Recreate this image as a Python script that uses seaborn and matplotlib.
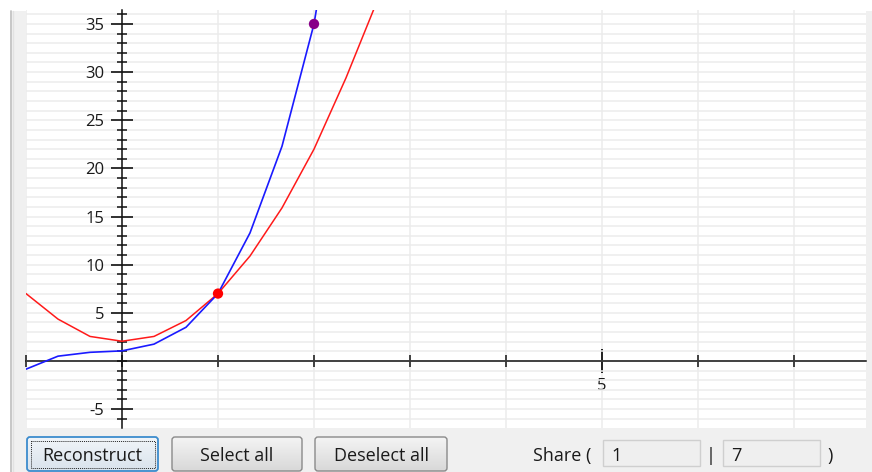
import numpy as np
import pandas as pd
import matplotlib
matplotlib.use("Agg")
import matplotlib.pyplot as plt
from matplotlib.patches import Rectangle, FancyBboxPatch
from matplotlib.ticker import FixedLocator, MultipleLocator, NullFormatter
import seaborn as sns

# Curve samples (step of one third)
x_blue = [-1, -2/3, -1/3, 0, 1/3, 2/3, 1, 4/3, 5/3, 2, 7/3]
y_blue = [-0.85, 0.5, 0.9, 1.05, 1.75, 3.5, 7.0, 13.3, 22.3, 35.0, 55.0]
x_red = [-1, -2/3, -1/3, 0, 1/3, 2/3, 1, 4/3, 5/3, 2, 7/3, 8/3]
y_red = [7.0, 4.35, 2.55, 2.05, 2.55, 4.2, 7.0, 10.9, 15.9, 22.0, 29.4, 37.6]

# Marked points
pt_red = (1, 7)
pt_purple = (2, 35)

# Axis labelling
y_major = [-5, 5, 10, 15, 20, 25, 30, 35]
x_major = [5]

# Controls row
buttons = ["Reconstruct", "Select all", "Deselect all"]
share_label = "Share ("
share_values = ["1", "7"]

sns.set_theme(style="white")
plt.rcParams["font.family"] = ["Open Sans", "DejaVu Sans"]

W, H = 872, 472
fig = plt.figure(figsize=(W / 100, H / 100), dpi=100, facecolor="white")

# ---- window chrome in pixel coordinates ----
ui = fig.add_axes([0, 0, 1, 1], zorder=0)
ui.set_xlim(0, W)
ui.set_ylim(H, 0)
ui.axis("off")
ui.add_patch(Rectangle((10, 11), W - 10, H - 11, fc="#f0f0f0", ec="none"))
ui.plot([10.5, 10.5], [11, H], color="#c4c4c4", lw=1.3)
ui.plot([12.5, 12.5], [11, H], color="#e2e2e2", lw=1.0)


def gradient_box(x0, y0, x1, y1, top, bottom, edge, radius=3, lw=1.0):
    patch = FancyBboxPatch((x0, y0), x1 - x0, y1 - y0,
                           boxstyle=f"round,pad=0,rounding_size={radius}",
                           fc="none", ec=edge, lw=lw, zorder=3)
    ui.add_patch(patch)
    c0 = np.array(matplotlib.colors.to_rgb(top))
    c1 = np.array(matplotlib.colors.to_rgb(bottom))
    t = np.linspace(0, 1, 64)[:, None]
    img = (c0 * (1 - t) + c1 * t)[:, None, :]
    im = ui.imshow(img, extent=(x0, x1, y1, y0), aspect="auto", zorder=2,
                   interpolation="bilinear")
    im.set_clip_path(patch)
    return patch


btn_boxes = [(27, 437, 158, 471), (172, 437, 302, 471), (315, 437, 447, 471)]
for i, (label, (x0, y0, x1, y1)) in enumerate(zip(buttons, btn_boxes)):
    if i == 0:
        gradient_box(x0, y0, x1, y1, "#f1f5f9", "#d9e3ec", "#3c8ccd", lw=1.3)
        ui.add_patch(Rectangle((x0 + 3.5, y0 + 3.5), x1 - x0 - 7, y1 - y0 - 7,
                               fc="none", ec="#222222", lw=0.7,
                               ls=(0, (1, 1)), zorder=4))
    else:
        gradient_box(x0, y0, x1, y1, "#f4f4f4", "#d8d8d8", "#8a8a8a")
    ui.text((x0 + x1) / 2, (y0 + y1) / 2 + 2, label, ha="center", va="center",
            fontsize=13, color="#1a1a1a", zorder=5)

ui.text(533, 456, share_label, ha="left", va="center", fontsize=13,
        color="#1a1a1a")
for (bx0, bx1), val in zip([(603, 700), (723, 820)], share_values):
    ui.add_patch(Rectangle((bx0, 440), bx1 - bx0, 26, fc="#efefef",
                           ec="#cfcfcf", lw=1.0, zorder=2))
    ui.text(bx0 + 8, 456, val, ha="left", va="center", fontsize=13,
            color="#1a1a1a", zorder=3)
ui.text(711, 456, "|", ha="center", va="center", fontsize=13, color="#1a1a1a")
ui.text(830, 456, ")", ha="center", va="center", fontsize=13, color="#1a1a1a")

# ---- plot area ----
left, right, top, bottom = 26, 866, 10, 428
ax = fig.add_axes([left / W, 1 - bottom / H, (right - left) / W, (bottom - top) / H],
                  zorder=1)
ax.set_facecolor("white")
ax.set_xlim(-1.0, 7.75)
ax.set_ylim(-6.96, 36.45)

df_blue = pd.DataFrame({"x": x_blue, "y": y_blue})
df_red = pd.DataFrame({"x": x_red, "y": y_red})
sns.lineplot(data=df_red, x="x", y="y", ax=ax, color="#ff1a1a", lw=1.1,
             sort=False, estimator=None, zorder=4)
sns.lineplot(data=df_blue, x="x", y="y", ax=ax, color="#1a1aff", lw=1.2,
             sort=False, estimator=None, zorder=5)
pts = pd.DataFrame({"x": [pt_red[0], pt_purple[0]], "y": [pt_red[1], pt_purple[1]],
                    "c": ["red", "purple"]})
sns.scatterplot(data=pts, x="x", y="y", hue="c",
                palette={"red": "#ff0000", "purple": "#880088"},
                s=55, edgecolor="none", ax=ax, legend=False, zorder=6,
                clip_on=False)

# axes through the origin
for side in ("top", "right"):
    ax.spines[side].set_visible(False)
ax.spines["left"].set_position(("data", 0))
ax.spines["bottom"].set_position(("data", 0))
for side in ("left", "bottom"):
    ax.spines[side].set_color("#111111")
    ax.spines[side].set_linewidth(1.1)
    ax.spines[side].set_zorder(3)

ax.yaxis.set_major_locator(FixedLocator(y_major))
ax.yaxis.set_minor_locator(MultipleLocator(1))
ax.xaxis.set_major_locator(FixedLocator(x_major))
ax.xaxis.set_minor_locator(MultipleLocator(1))
ax.xaxis.set_minor_formatter(NullFormatter())
ax.yaxis.set_minor_formatter(NullFormatter())
ax.set_yticklabels([str(v) for v in y_major])
ax.set_xticklabels([str(v) for v in x_major])

ax.tick_params(axis="y", which="major", direction="inout", length=16.5, width=1.2,
               color="#111111", pad=4.5, labelsize=12, labelcolor="#1a1a1a")
ax.tick_params(axis="y", which="minor", direction="inout", length=7.5, width=1.1,
               color="#111111")
ax.tick_params(axis="x", which="major", direction="inout", length=17, width=1.3,
               color="#111111", pad=4, labelsize=12, labelcolor="#1a1a1a")
ax.tick_params(axis="x", which="minor", direction="inout", length=8.5, width=1.1,
               color="#111111")
ax.tick_params(left=True, bottom=True, which="both")

ax.grid(True, which="both", color="#ececec", lw=1.1)
ax.set_axisbelow(True)
ax.set_xlabel("")
ax.set_ylabel("")

fig.savefig("out.png", dpi=100, facecolor=fig.get_facecolor())
